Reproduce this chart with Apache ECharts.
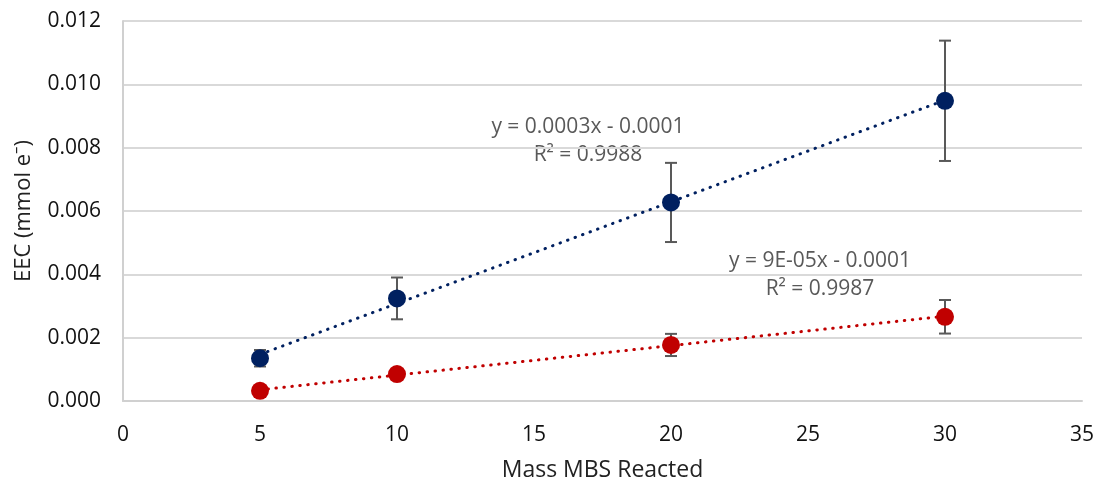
<!DOCTYPE html>
<html lang="en">
<head>
    <meta charset="UTF-8">
    <title>EEC vs Mass MBS Reacted</title>
    <script src="https://cdn.jsdelivr.net/npm/echarts@6/dist/echarts.min.js"></script>
    <style>
        * { margin: 0; padding: 0; box-sizing: border-box; }
        body { background: #fff; }
        #chart { width: 1098px; height: 480px; }
    </style>
</head>
<body>
    <div id="chart"></div>
    <script>
        // data
        const mass = [5, 10, 20, 30];
        const eecBlue = [0.00135, 0.00324, 0.00627, 0.00948];
        const errBlue = [0.00026, 0.00066, 0.00125, 0.0019];
        const eecRed = [0.00032, 0.00085, 0.00177, 0.00266];
        const errRed = [0.00004, 0.00008, 0.00035, 0.00053];

        const blue = '#002060';
        const red = '#C00000';
        const grey = '#595959';
        const font = '"Open Sans", "Noto Sans", sans-serif';

        // least squares fit, like the spreadsheet trendline
        function fitLine(xs, ys) {
            const n = xs.length;
            const mx = xs.reduce((a, b) => a + b, 0) / n;
            const my = ys.reduce((a, b) => a + b, 0) / n;
            let sxy = 0, sxx = 0;
            for (let i = 0; i < n; i++) {
                sxy += (xs[i] - mx) * (ys[i] - my);
                sxx += (xs[i] - mx) * (xs[i] - mx);
            }
            const k = sxy / sxx;
            const b = my - k * mx;
            const x0 = xs[0], x1 = xs[n - 1];
            return [[x0, k * x0 + b], [x1, k * x1 + b]];
        }

        function errorSeries(ys, errs) {
            return {
                type: 'custom',
                z: 1,
                silent: true,
                data: mass.map((x, i) => [x, ys[i] - errs[i], ys[i] + errs[i]]),
                renderItem: function (params, api) {
                    const lo = api.coord([api.value(0), api.value(1)]);
                    const hi = api.coord([api.value(0), api.value(2)]);
                    const w = 6;
                    const style = { stroke: grey, lineWidth: 2 };
                    return {
                        type: 'group',
                        children: [
                            { type: 'line', shape: { x1: hi[0], y1: hi[1], x2: lo[0], y2: lo[1] }, style: style },
                            { type: 'line', shape: { x1: hi[0] - w, y1: hi[1], x2: hi[0] + w, y2: hi[1] }, style: style },
                            { type: 'line', shape: { x1: lo[0] - w, y1: lo[1], x2: lo[0] + w, y2: lo[1] }, style: style }
                        ]
                    };
                }
            };
        }

        function trendSeries(ys, color) {
            return {
                type: 'line',
                z: 2,
                silent: true,
                symbol: 'none',
                data: fitLine(mass, ys),
                lineStyle: { color: color, width: 3, type: [0.5, 7.5], cap: 'round' }
            };
        }

        function pointSeries(ys, color) {
            return {
                type: 'scatter',
                z: 3,
                symbolSize: 18,
                data: mass.map((x, i) => [x, ys[i]]),
                itemStyle: { color: color, opacity: 1 }
            };
        }

        function note(text, x, y) {
            return {
                type: 'text', x: x, y: y,
                style: { text: text, fill: grey, font: '21px ' + font, align: 'center', verticalAlign: 'middle' }
            };
        }

        const chart = echarts.init(document.getElementById('chart'));
        chart.setOption({
            animation: false,
            grid: { left: 123, right: 16, top: 21, bottom: 79, outerBoundsMode: 'none' },
            xAxis: {
                type: 'value',
                min: 0, max: 35, interval: 5,
                name: 'Mass MBS Reacted',
                nameLocation: 'middle',
                nameGap: 58,
                nameTextStyle: { fontFamily: font, fontSize: 23, color: '#222' },
                axisLine: { lineStyle: { color: '#d0d0d0', width: 2 } },
                axisTick: { show: false },
                axisLabel: { fontFamily: font, fontSize: 21, color: '#111', margin: 24 },
                splitLine: { show: false }
            },
            yAxis: {
                type: 'value',
                min: 0, max: 0.012, interval: 0.002,
                name: 'EEC (mmol e\u207B)',
                nameLocation: 'middle',
                nameGap: 88,
                nameTextStyle: { fontFamily: font, fontSize: 22, color: '#222' },
                axisLine: { show: true, lineStyle: { color: '#d0d0d0', width: 2 } },
                axisTick: { show: false },
                axisLabel: {
                    fontFamily: font, fontSize: 21, color: '#111', margin: 22,
                    formatter: v => v.toFixed(3)
                },
                splitLine: { lineStyle: { color: '#d9d9d9', width: 2 } }
            },
            graphic: [
                note('y = 0.0003x - 0.0001', 588, 127),
                note('R\u00B2 = 0.9988', 588, 155),
                note('y = 9E-05x - 0.0001', 820, 261),
                note('R\u00B2 = 0.9987', 820, 289)
            ],
            series: [
                errorSeries(eecBlue, errBlue),
                errorSeries(eecRed, errRed),
                trendSeries(eecBlue, blue),
                trendSeries(eecRed, red),
                pointSeries(eecBlue, blue),
                pointSeries(eecRed, red)
            ]
        });
    </script>
</body>
</html>
